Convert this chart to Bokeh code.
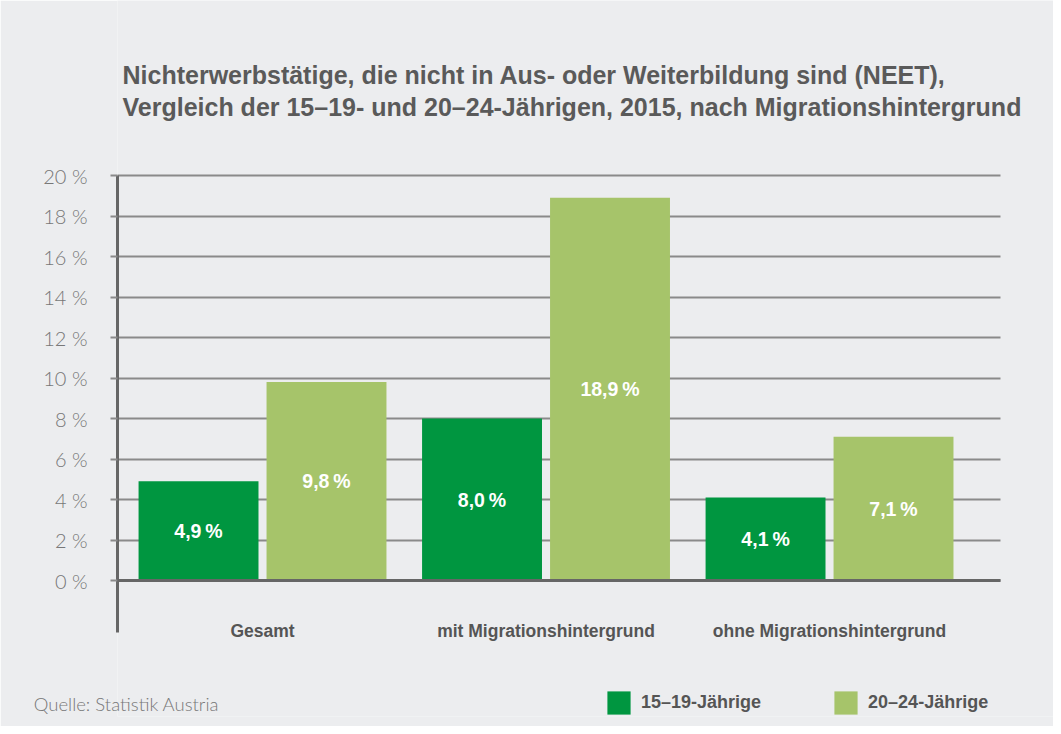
from bokeh.plotting import figure
from bokeh.models import (ColumnDataSource, Label, FixedTicker, PrintfTickFormatter,
                          Legend, LegendItem, Range1d, Grid)
from bokeh.core.properties import value
from bokeh.embed import file_html
from bokeh.resources import INLINE

# ---- data ----
categories = ["Gesamt", "mit Migrationshintergrund", "ohne Migrationshintergrund"]
series_names = ["15\u201319-J\u00e4hrige", "20\u201324-J\u00e4hrige"]
neet_15_19 = [4.9, 8.0, 4.1]
neet_20_24 = [9.8, 18.9, 7.1]
y_ticks = [0, 2, 4, 6, 8, 10, 12, 14, 16, 18, 20]
title_lines = ["Nichterwerbst\u00e4tige, die nicht in Aus- oder Weiterbildung sind (NEET),",
               "Vergleich der 15\u201319- und 20\u201324-J\u00e4hrigen, 2015, nach Migrationshintergrund"]
source_text = "Quelle: Statistik Austria"

# ---- style ----
BG = "#ecedef"
DARK = "#009640"
LIGHT = "#a6c46a"
FONT = "Liberation Sans"
LIGHTFONT = "Lato Light"

W, H = 1053, 726
FRAME_BOTTOM = 716
X0, X1 = -0.5115, 2.790
Y0, Y1 = -6.716, 28.642
GRID_X = (X0, 2.603)
SOURCE_X = -0.48

p = figure(width=W, height=H, output_backend="svg", toolbar_location=None,
           x_range=Range1d(X0, X1), y_range=Range1d(Y0, Y1),
           min_border_left=117, min_border_right=0, min_border_top=0,
           min_border_bottom=H - FRAME_BOTTOM)
p.background_fill_color = BG
p.border_fill_color = BG
p.outline_line_color = None

xs = list(range(len(categories)))
off = 0.2257
bw = 0.423

def fmt(v):
    return f"{v:.1f}".replace(".", ",") + "\u2009%"

s1 = ColumnDataSource(dict(x=[x - off for x in xs], top=neet_15_19,
                           lab=[fmt(v) for v in neet_15_19], ly=[v / 2 for v in neet_15_19]))
s2 = ColumnDataSource(dict(x=[x + off for x in xs], top=neet_20_24,
                           lab=[fmt(v) for v in neet_20_24], ly=[v / 2 for v in neet_20_24]))

r1 = p.vbar(x="x", top="top", bottom=0, width=bw, source=s1, fill_color=DARK, line_color=None)
r2 = p.vbar(x="x", top="top", bottom=0, width=bw, source=s2, fill_color=LIGHT, line_color=None)

for s in (s1, s2):
    p.text(x="x", y="ly", text="lab", source=s, text_color="white", text_font=value(FONT),
           text_font_style="bold", text_font_size="19.5px", text_align="center",
           text_baseline="middle")

# y axis
p.xgrid.visible = False
yax = p.yaxis[0]
yax.bounds = (-2.57, 20)
yax.ticker = FixedTicker(ticks=y_ticks)
yax.formatter = PrintfTickFormatter(format="%d %%")
yax.axis_line_color = "#666666"
yax.axis_line_width = 3
yax.major_tick_line_color = "#8a8a8a"
yax.major_tick_line_width = 2
yax.major_tick_in = 0
yax.major_tick_out = 7
yax.minor_tick_line_color = None
yax.major_label_standoff = 23
yax.major_label_text_font = LIGHTFONT
yax.major_label_text_font_size = "20px"
yax.major_label_text_color = "#777777"

# x axis only carries the source note
xax = p.xaxis[0]
xax.ticker = FixedTicker(ticks=[SOURCE_X])
xax.major_label_overrides = {SOURCE_X: source_text}
xax.axis_line_color = None
xax.major_tick_line_color = None
xax.minor_tick_line_color = None
xax.major_tick_out = 0
xax.major_tick_in = 0
xax.major_label_standoff = -24
xax.major_label_text_font = LIGHTFONT
xax.major_label_text_font_size = "18.5px"
xax.major_label_text_color = "#777777"

p.ygrid.ticker = FixedTicker(ticks=y_ticks)
p.ygrid.grid_line_color = "#8a8a8a"
p.ygrid.grid_line_width = 2
p.ygrid.cross_bounds = GRID_X

zero = Grid(dimension=1, ticker=FixedTicker(ticks=[0]), grid_line_color="#666666",
            grid_line_width=3, cross_bounds=GRID_X, level="overlay")
p.add_layout(zero)

# category labels
for x, c in zip(xs, categories):
    p.add_layout(Label(x=x, y=-2.47, text=c, text_align="center", text_baseline="middle",
                       text_font=FONT, text_font_style="bold", text_font_size="17.5px",
                       text_color="#555555"))

# title
for i, t in enumerate(title_lines):
    p.add_layout(Label(x=5, y=(FRAME_BOTTOM - 74) - 32 * i, x_units="screen", y_units="screen",
                       text=t, text_baseline="middle", text_align="left", text_font=FONT,
                       text_font_style="bold", text_font_size="25px", text_color="#5a5a5a"))

# series legend
lg = Legend(items=[LegendItem(label=series_names[0], renderers=[r1]),
                   LegendItem(label=series_names[1], renderers=[r2])],
            location=(487, -1), orientation="horizontal", padding=0, margin=0, spacing=70,
            border_line_alpha=0, background_fill_alpha=0, glyph_width=29, glyph_height=29,
            label_height=29, label_standoff=8, label_text_font=FONT,
            label_text_font_style="bold", label_text_font_size="18px",
            label_text_color="#555555", label_text_baseline="middle")
p.add_layout(lg, "center")

open("out.html", "w").write(file_html(p, INLINE))
